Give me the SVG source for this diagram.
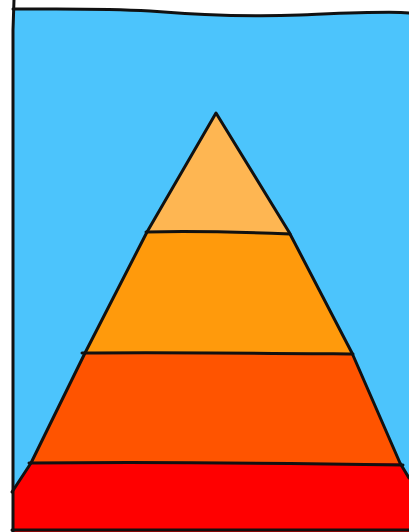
<svg xmlns="http://www.w3.org/2000/svg" width="409" height="532" viewBox="0 0 409 532">
<style>
.ink{stroke:#111;stroke-width:3;stroke-linecap:round;stroke-linejoin:round;fill:none}
</style>
<rect width="409" height="532" fill="#fff"/>
<path id="sky" d="M13,9 C60,9 100,8 150,11 C200,15 250,17 300,15 C350,13 390,11 409,13 L409,532 L13,532 Z" fill="#4CC4FC"/>
<g id="layers" stroke="none">
<path id="layer1" d="M216,113 L289,232 L147,232 Z" fill="#FEB652"/>
<path id="layer2" d="M147,232 L289,232 L352,353 L85,353 Z" fill="#FF9A0C"/>
<path id="layer3" d="M85,353 L352,353 L400,463 L31,463 Z" fill="#FF5400"/>
<path id="layer4" d="M31,463 L400,463 L409,478 L409,532 L12,532 L12,492 Z" fill="#FF0000"/>
</g>
<g id="lines" class="ink">
<path d="M13,9 C60,9 100,8 150,11 C200,15 250,17 300,15 C350,13 390,11 409,13"/>
<path d="M14,0 L13,30 L13,300 L13,532"/>
<path d="M12,492 L31,463 L85,353 L147,232 L216,113 L289,232 L352,353 L400,463 L409,478"/>
<path d="M146,232 C190,231 240,232 290,234"/>
<path d="M82,353 C160,352 250,353 353,354"/>
<path d="M29,463 C150,462 280,463 403,465"/>
<path d="M12,530 L409,530"/>
</g>
</svg>
